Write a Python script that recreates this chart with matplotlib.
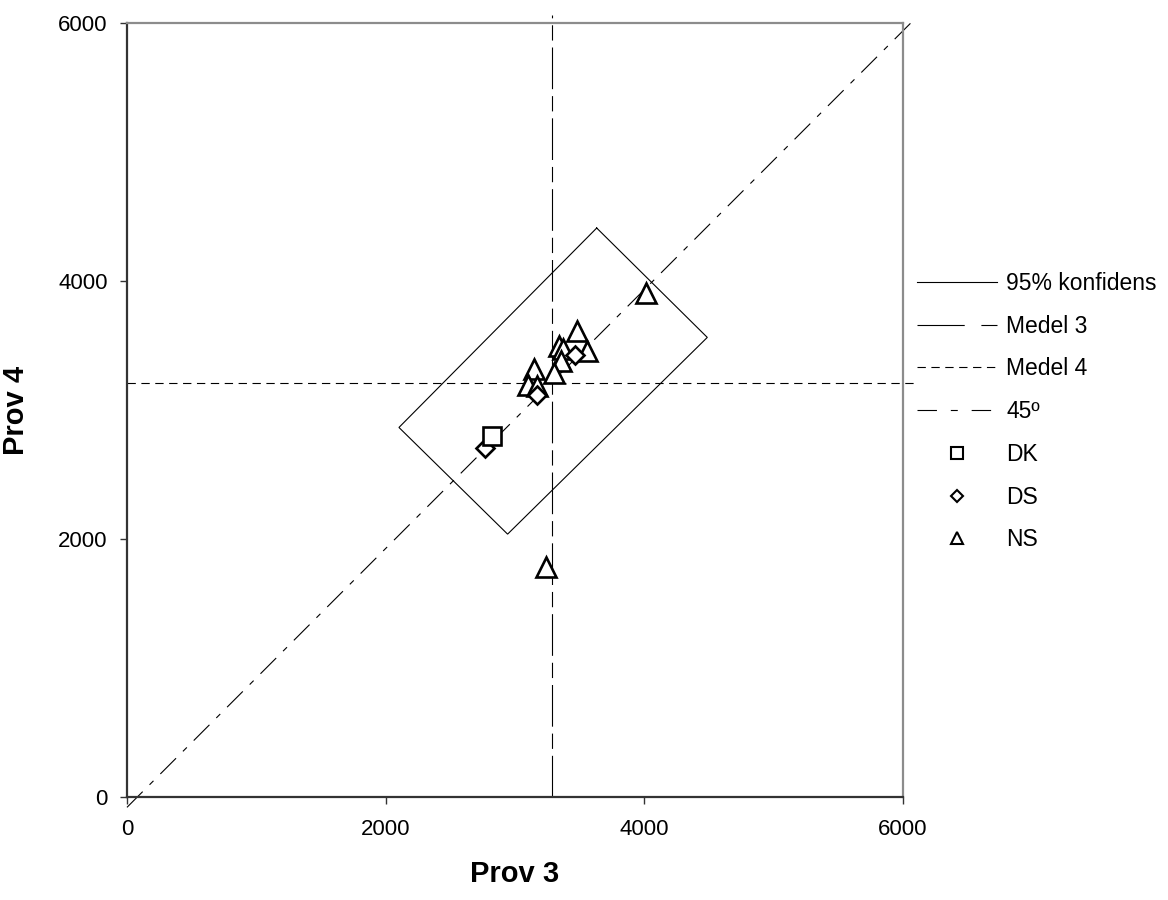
import matplotlib
matplotlib.use("Agg")
import matplotlib.pyplot as plt
from matplotlib.lines import Line2D

plt.rcParams['font.family'] = ['Liberation Sans', 'DejaVu Sans']
plt.rcParams['lines.scale_dashes'] = False

# Prov 3 / Prov 4 per group
dk_x = [2822]
dk_y = [2795]
ds_x = [2771, 3168, 3464]
ds_y = [2702, 3118, 3428]
ns_x = [4011, 3477, 3559, 3340, 3370, 3356, 3304, 3147, 3098, 3168, 3237]
ns_y = [3904, 3615, 3454, 3495, 3475, 3377, 3291, 3318, 3193, 3190, 1782]

# 95% confidence box (closed polygon)
konf_x = [3632, 4487, 2943, 2103, 3632]
konf_y = [4411, 3563, 2038, 2865, 4411]

medel_3 = 3289
medel_4 = 3209
line_end = 6060
diag_x = [0, 6070]
diag_y = [-80, 6010]

ticks = [0, 2000, 4000, 6000]

dash_m3 = (0, (30, 5, 11, 5))
dash_m4 = (0, (6, 4))
dash_45 = (0, (16, 7, 4, 7))

fig = plt.figure(figsize=(11.68, 9), dpi=100)
ax = fig.add_axes([0.1087, 0.1144, 0.6644, 0.86])

lw = 0.8
ax.plot(konf_x, konf_y, color='black', lw=lw, solid_joinstyle='miter')
ax.plot([medel_3, medel_3], [0, line_end], color='black', lw=lw,
        linestyle=dash_m3, clip_on=False)
ax.plot([0, 6093], [medel_4, medel_4], color='black', lw=lw,
        linestyle=dash_m4, clip_on=False)
ax.plot(diag_x, diag_y, color='black', lw=lw, linestyle=dash_45, clip_on=False)

mk = dict(linestyle='none', markerfacecolor='white', markeredgecolor='black',
          markeredgewidth=1.9)
ax.plot(ns_x, ns_y, marker='^', markersize=14.5, **mk)
ax.plot(ds_x, ds_y, marker='D', markersize=9.5, **mk)
ax.plot(dk_x, dk_y, marker='s', markersize=13.5, **mk)

ax.set_xlim(0, 6000)
ax.set_ylim(0, 6000)
ax.set_xticks(ticks)
ax.set_yticks(ticks)
ax.tick_params(direction='out', length=5, width=1, color='#333333',
               labelsize=16, pad=9)
ax.tick_params(axis='x', pad=11)

for side in ['left', 'bottom']:
    ax.spines[side].set_color('#333333')
    ax.spines[side].set_linewidth(1.6)
for side in ['top', 'right']:
    ax.spines[side].set_color('#8c8c8c')
    ax.spines[side].set_linewidth(1.6)

ax.set_xlabel('Prov 3', fontsize=21, fontweight='bold', labelpad=14)
ax.set_ylabel('Prov 4', fontsize=21, fontweight='bold', labelpad=20)

# legend entries
lmk = dict(linestyle='none', markerfacecolor='white', markeredgecolor='black',
           markeredgewidth=1.5)
handles = [
    Line2D([], [], color='black', lw=lw),
    Line2D([], [], color='black', lw=lw, linestyle=(0, (34, 12, 14, 12))),
    Line2D([], [], color='black', lw=lw, linestyle=(0, (6, 4))),
    Line2D([], [], color='black', lw=lw, linestyle=(0, (14, 10, 5, 10))),
    Line2D([], [], marker='s', markersize=8.5, **lmk),
    Line2D([], [], marker='D', markersize=6.5, **lmk),
    Line2D([], [], marker='^', markersize=9, **lmk),
]
labels = ['95% konfidens', 'Medel 3', 'Medel 4', '45\u00ba', 'DK', 'DS', 'NS']
fig.legend(handles, labels, loc='upper left',
           bbox_to_anchor=(917 / 1168, 1 - 272 / 900), frameon=False,
           fontsize=16.5, handlelength=3.5, handletextpad=0.4,
           labelspacing=0.86, borderpad=0, borderaxespad=0)

fig.savefig('out.png', dpi=100)
